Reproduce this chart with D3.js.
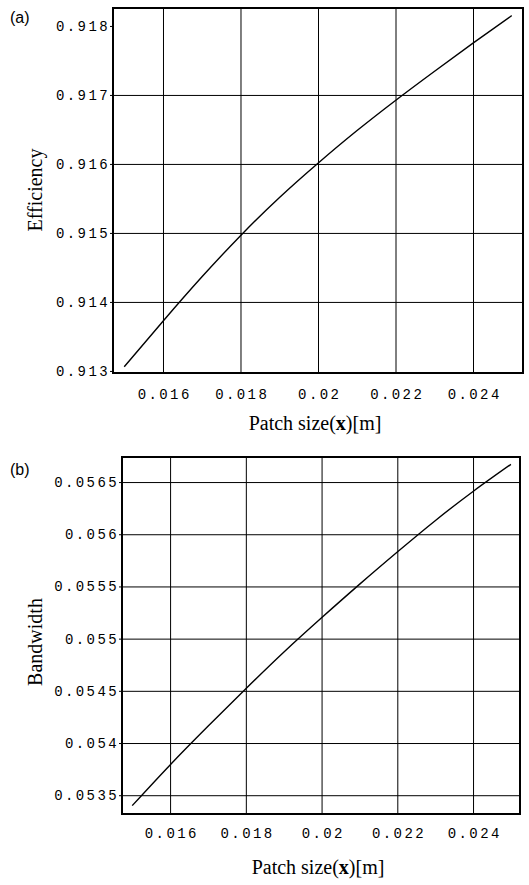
<!DOCTYPE html>
<meta charset="utf-8">
<style>
  body { margin: 0; background: #fff; }
  .tick text { font-family: "Liberation Mono", "DejaVu Sans Mono", monospace; font-size: 14px; letter-spacing: 2.4px; fill: #000; }
  .title { font-family: "Liberation Serif", "DejaVu Serif", serif; font-size: 20px; fill: #000; }
  .tag { font-family: "Liberation Sans", Arial, sans-serif; font-size: 16px; fill: #000; }
  .grid line { stroke: #000; stroke-width: 1; }
  .grid path { display: none; }
</style>
<body>
<svg id="chart" width="529" height="885"></svg>
<script src="https://d3js.org/d3.v7.min.js"></script>
<script>
// values
var patchSize  = [0.015, 0.016, 0.017, 0.018, 0.019, 0.020, 0.021, 0.022, 0.023, 0.024, 0.025];
var efficiency = [0.91306, 0.91372, 0.91436, 0.91496, 0.91551, 0.91601, 0.91648, 0.91692, 0.91734, 0.91775, 0.91815];
var bandwidth  = [0.05340, 0.05379, 0.05416, 0.05452, 0.05487, 0.05520, 0.05552, 0.05583, 0.05613, 0.05641, 0.05667];

var xTicks = [0.016, 0.018, 0.020, 0.022, 0.024];
var xTickLabels = ["0.016", "0.018", "0.02", "0.022", "0.024"];
var effTicks = [0.913, 0.914, 0.915, 0.916, 0.917, 0.918];
var effTickLabels = ["0.913", "0.914", "0.915", "0.916", "0.917", "0.918"];
var effGrid = [0.914, 0.915, 0.916, 0.917];
var bwTicks = [0.0535, 0.054, 0.0545, 0.055, 0.0555, 0.056, 0.0565];
var bwTickLabels = ["0.0535", "0.054", "0.0545", "0.055", "0.0555", "0.056", "0.0565"];

var svg = d3.select("#chart");

function drawPanel(p) {
  var x = d3.scaleLinear().domain(p.xDomain).range([p.left, p.right]);
  var y = d3.scaleLinear().domain(p.yDomain).range([p.bottom, p.top]);
  var g = svg.append("g");

  // grid
  g.append("g").attr("class", "grid")
    .attr("transform", "translate(0," + p.bottom + ")")
    .call(d3.axisBottom(x).tickValues(xTicks).tickSize(-(p.bottom - p.top)).tickFormat(""));
  g.append("g").attr("class", "grid")
    .attr("transform", "translate(" + p.left + ",0)")
    .call(d3.axisLeft(y).tickValues(p.yGrid).tickSize(-(p.right - p.left)).tickFormat(""));

  // tick labels
  var xa = g.append("g")
    .attr("transform", "translate(0," + p.bottom + ")")
    .call(d3.axisBottom(x).tickValues(xTicks).tickSize(0).tickPadding(p.xPad)
      .tickFormat(function (d, i) { return xTickLabels[i]; }));
  xa.select(".domain").remove();
  xa.selectAll("text").attr("dx", "1.2px");
  var ya = g.append("g")
    .attr("transform", "translate(" + p.left + ",0)")
    .call(d3.axisLeft(y).tickValues(p.yTicks).tickSize(3).tickPadding(p.yPad)
      .tickFormat(function (d, i) { return p.yLabels[i]; }));
  ya.select(".domain").remove();
  ya.selectAll("line").attr("stroke", "#000");

  // frame
  g.append("rect")
    .attr("x", p.left).attr("y", p.top)
    .attr("width", p.right - p.left).attr("height", p.bottom - p.top)
    .attr("fill", "none").attr("stroke", "#000").attr("stroke-width", 2);

  // curve
  var line = d3.line()
    .x(function (d, i) { return x(patchSize[i]); })
    .y(function (d) { return y(d); })
    .curve(d3.curveNatural);
  g.append("path").datum(p.values)
    .attr("d", line)
    .attr("fill", "none").attr("stroke", "#000").attr("stroke-width", 1.4);

  g.append("text").attr("class", "title")
    .attr("x", (p.left + p.right) / 2 - 3).attr("y", p.bottom + p.xTitleGap)
    .attr("text-anchor", "middle")
    .html("Patch size(<tspan font-weight='bold'>x</tspan>)[m]");
  g.append("text").attr("class", "title")
    .attr("transform", "translate(" + p.yTitleX + "," + p.yTitleY + ") rotate(-90)")
    .attr("text-anchor", "middle")
    .text(p.yTitle);
  g.append("text").attr("class", "tag")
    .attr("x", 10).attr("y", p.tagY)
    .text(p.tag);
}

drawPanel({
  left: 113, right: 523, top: 8, bottom: 373,
  xDomain: [0.01471, 0.02529], yDomain: [0.91297, 0.91826],
  values: efficiency, yTicks: effTicks, yLabels: effTickLabels, yGrid: effGrid,
  xPad: 16, yPad: 0, xTitleGap: 57, yTitle: "Efficiency", yTitleX: 42, yTitleY: 190,
  tag: "(a)", tagY: 23
});

drawPanel({
  left: 122, right: 520, top: 457, bottom: 814,
  xDomain: [0.01473, 0.02524], yDomain: [0.05332, 0.05674],
  values: bandwidth, yTicks: bwTicks, yLabels: bwTickLabels, yGrid: bwTicks,
  xPad: 14, yPad: 0, xTitleGap: 60, yTitle: "Bandwidth", yTitleX: 42, yTitleY: 642,
  tag: "(b)", tagY: 475
});
</script>
</body>
